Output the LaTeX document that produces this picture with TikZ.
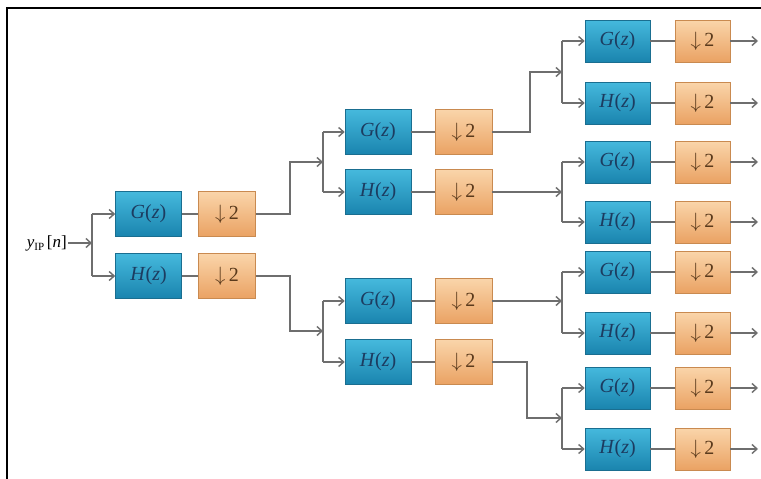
\documentclass[tikz,border=0pt]{standalone}
\usepackage{fontspec}
\setmainfont{Liberation Serif}
\usetikzlibrary{arrows.meta}
\definecolor{bluetop}{HTML}{45B9DD}
\definecolor{bluebot}{HTML}{1A84AE}
\definecolor{blueedge}{HTML}{1A6E90}
\definecolor{orgtop}{HTML}{FAD5AA}
\definecolor{orgbot}{HTML}{EAA263}
\definecolor{orgedge}{HTML}{C98A50}
\definecolor{wirec}{HTML}{6E6E6E}
\definecolor{ftext}{HTML}{1C3C60}
\definecolor{dtext}{HTML}{5A3A1C}
\newcommand{\Gz}{\textit{G}(\textit{z})}
\newcommand{\Hz}{\textit{H}(\textit{z})}
\newcommand{\Dn}{$\downarrow$\,2}
\begin{document}
\begin{tikzpicture}[x=1pt,y=-1pt,
 filt/.style={rectangle, minimum width=66pt, minimum height=45pt, inner sep=0pt,
   top color=bluetop, bottom color=bluebot, draw=blueedge, line width=0.6pt,
   text=ftext, font=\fontsize{20}{20}\selectfont},
 dec/.style={rectangle, minimum width=57pt, minimum height=45pt, inner sep=0pt,
   top color=orgtop, bottom color=orgbot, draw=orgedge, line width=0.6pt,
   text=dtext, font=\fontsize{20}{20}\selectfont},
 small/.style={minimum height=42pt},
 wire/.style={draw=wirec, line width=1.4pt},
 arr/.style={wire, -{Straight Barb[length=5pt,width=9pt]}},
]
\useasboundingbox (0,0) rectangle (761,479);
\fill[white] (0,0) rectangle (761,479);
\draw[line width=2pt] (761,8) -- (7,8) -- (7,479);

% input
\node[font=\fontsize{17}{17}\selectfont, anchor=east, inner sep=1pt] (in) at (68,243)
  {\textit{y}\raisebox{-0.4ex}{\fontsize{11}{11}\selectfont IP}\,[\textit{n}]};
\coordinate (b0) at (92,243);

% stage 1
\node[filt] (G1) at (148.5,214) {\Gz};
\node[dec]  (D1) at (227,214) {\Dn};
\node[filt] (H1) at (148.5,276) {\Hz};
\node[dec]  (E1) at (227,276) {\Dn};

% stage 2
\node[filt] (G2a) at (378,132) {\Gz};
\node[dec]  (D2a) at (463.5,132) {\Dn};
\node[filt] (H2a) at (378,192) {\Hz};
\node[dec]  (E2a) at (463.5,192) {\Dn};
\node[filt] (G2b) at (378,301) {\Gz};
\node[dec]  (D2b) at (463.5,301) {\Dn};
\node[filt] (H2b) at (378,362) {\Hz};
\node[dec]  (E2b) at (463.5,362) {\Dn};

% stage 3
\foreach \n/\y/\t in {G3a/41/\Gz, H3a/103/\Hz, G3b/162/\Gz, H3b/222/\Hz,
                      G3c/272/\Gz, H3c/333/\Hz, G3d/388/\Gz, H3d/449/\Hz}{
  \node[filt, small, minimum width=65pt] (\n) at (617.5,\y) {\t};
  \node[dec, small, minimum width=55pt] (D\n) at (702.5,\y) {\Dn};
  \coordinate (O\n) at (758,\y);
  \draw[arr] (D\n.east) -- (O\n);
  \draw[wire] (\n.east) -- (D\n.west);
}

% coordinates of branch points and turns
\coordinate (b1) at (323,162);
\coordinate (t1) at (290,214);
\coordinate (b2) at (323,331);
\coordinate (t2) at (290,276);
\coordinate (b3) at (562,72);
\coordinate (t3) at (530,132);
\coordinate (b4) at (562,192);
\coordinate (b5) at (562,301);
\coordinate (b6) at (562,418);
\coordinate (t6) at (527,362);

% input connectors
\draw[arr] (in.east) -- (b0);
\draw[wire] (b0 |- G1.west) -- (b0 |- H1.west);
\draw[arr] (b0 |- G1.west) -- (G1.west);
\draw[arr] (b0 |- H1.west) -- (H1.west);
\draw[wire] (G1) -- (D1);
\draw[wire] (H1) -- (E1);

% stage 1 -> 2
\draw[arr] (D1.east) -- (t1) |- (b1);
\draw[arr] (E1.east) -- (t2) |- (b2);
\draw[wire] (b1 |- G2a.west) -- (b1 |- H2a.west);
\draw[arr] (b1 |- G2a.west) -- (G2a.west);
\draw[arr] (b1 |- H2a.west) -- (H2a.west);
\draw[wire] (b2 |- G2b.west) -- (b2 |- H2b.west);
\draw[arr] (b2 |- G2b.west) -- (G2b.west);
\draw[arr] (b2 |- H2b.west) -- (H2b.west);
\draw[wire] (G2a) -- (D2a);
\draw[wire] (H2a) -- (E2a);
\draw[wire] (G2b) -- (D2b);
\draw[wire] (H2b) -- (E2b);

% stage 2 -> 3
\draw[arr] (D2a.east) -- (t3) |- (b3);
\draw[arr] (E2a.east) -- (b4);
\draw[arr] (D2b.east) -- (b5);
\draw[arr] (E2b.east) -- (t6) |- (b6);
\foreach \b/\g/\h in {b3/G3a/H3a, b4/G3b/H3b, b5/G3c/H3c, b6/G3d/H3d}{
  \draw[wire] (\b |- \g.west) -- (\b |- \h.west);
  \draw[arr] (\b |- \g.west) -- (\g.west);
  \draw[arr] (\b |- \h.west) -- (\h.west);
}
\end{tikzpicture}
\end{document}
